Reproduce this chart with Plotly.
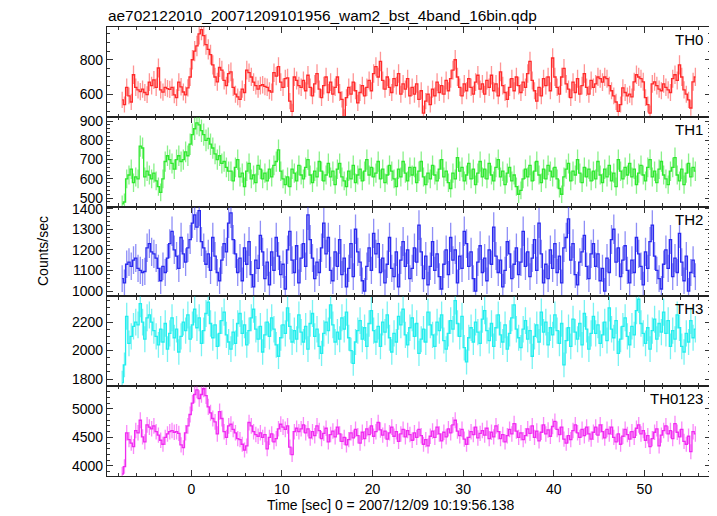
import numpy as np
import plotly.graph_objects as go
from plotly.subplots import make_subplots

# ---- data (0.25 s bins, count rates in counts/sec) ----
T_START = -7.625   # centre of first bin (s)
BIN = 0.25         # bin width (s)

th0 = [
    567, 540, 640, 590, 555, 713, 640, 625, 615, 630, 610, 598, 670, 650, 683, 640,
    752, 625, 612, 640, 632, 628, 640, 596, 580, 670, 643, 613, 596, 637, 700, 800,
    850, 880, 950, 975, 940, 888, 860, 830, 770, 700, 672, 755, 740, 680, 650, 720,
    730, 640, 600, 585, 570, 630, 610, 740, 725, 700, 670, 650, 630, 650, 655, 645,
    640, 620, 612, 725, 705, 760, 670, 640, 690, 695, 560, 500, 700, 680, 650, 640,
    680, 620, 710, 640, 590, 660, 720, 630, 580, 650, 700, 610, 670, 600, 640, 700,
    610, 570, 470, 580, 640, 600, 670, 620, 550, 610, 650, 590, 640, 680, 620, 720,
    760, 700, 790, 680, 630, 700, 640, 610, 690, 650, 720, 600, 660, 630, 690, 590,
    640, 600, 660, 570, 620, 490, 560, 600, 540, 630, 590, 670, 610, 650, 600, 680,
    620, 690, 740, 800, 700, 640, 590, 660, 620, 690, 640, 600, 670, 710, 630, 660,
    600, 680, 640, 710, 620, 660, 590, 730, 650, 610, 570, 640, 690, 620, 700, 650,
    610, 670, 640, 720, 790, 680, 620, 560, 640, 590, 690, 650, 700, 620, 810, 700,
    640, 600, 700, 750, 660, 630, 580, 670, 610, 690, 600, 650, 720, 640, 600, 680,
    640, 660, 700, 690, 670, 700, 690, 650, 620, 590, 555, 500, 540, 637, 610, 590,
    600, 585, 672, 713, 700, 690, 672, 580, 540, 490, 660, 672, 650, 630, 620, 660,
    640, 625, 610, 690, 713, 680, 770, 700, 625, 600, 567, 520, 672, 700,
]

th1 = [
    470, 480, 600, 620, 650, 580, 610, 600, 770, 760, 610, 640, 620, 600, 630, 590,
    560, 530, 600, 690, 720, 700, 680, 650, 700, 720, 690, 700, 740, 720, 780, 830,
    860, 890, 880, 850, 830, 800, 810, 780, 760, 730, 700, 720, 680, 690, 660, 640,
    640, 590, 660, 700, 610, 630, 560, 640, 680, 600, 620, 580, 670, 650, 600, 630,
    590, 650, 610, 670, 690, 750, 640, 600, 570, 610, 560, 650, 630, 590, 670, 620,
    600, 660, 700, 620, 580, 640, 610, 690, 640, 590, 620, 680, 610, 640, 570, 650,
    680, 610, 590, 560, 640, 600, 670, 580, 620, 650, 590, 640, 700, 620, 660, 610,
    630, 690, 600, 650, 580, 620, 670, 640, 600, 560, 650, 610, 690, 630, 590, 660,
    620, 660, 580, 640, 690, 610, 570, 630, 600, 670, 620, 590, 650, 700, 610, 640,
    580, 550, 630, 600, 710, 640, 660, 590, 620, 680, 600, 650, 570, 630, 690, 610,
    650, 600, 680, 620, 590, 660, 700, 610, 640, 570, 630, 660, 590, 620, 560, 520,
    540, 600, 650, 610, 670, 590, 640, 690, 620, 580, 650, 600, 670, 640, 610, 660,
    600, 550, 520, 610, 650, 680, 590, 640, 620, 700, 630, 580, 660, 610, 650, 590,
    640, 600, 690, 620, 580, 650, 610, 670, 590, 630, 560, 700, 640, 600, 660, 620,
    680, 610, 650, 570, 630, 670, 620, 590, 660, 700, 610, 640, 580, 650, 690, 620,
    600, 570, 640, 660, 710, 620, 590, 650, 570, 630, 680, 610, 660, 640,
]

th2 = [
    1060, 1040, 1130, 1140, 1120, 1150, 1160, 1110, 1100, 1090, 1095, 1210, 1230, 1190, 1180, 1160,
    1110, 1050, 1120, 1090, 1160, 1230, 1290, 1200, 1170, 1110, 1260, 1180, 1140, 1210, 1250, 1330,
    1370, 1310, 1390, 1240, 1210, 1130, 1180, 1100, 1260, 1170, 1090, 1050, 1150, 1230, 1190, 1330,
    1380, 1250, 1180, 1090, 1160, 1050, 1210, 1130, 1240, 1080, 1020, 1150, 1110, 1270, 1190, 1060,
    1140, 1030, 1190, 1100, 1260, 1170, 1080, 1130, 1010, 1200, 1290, 1150, 1090, 1220, 1040, 1160,
    1230, 1120, 1370, 1250, 1160, 1060, 1140, 1090, 1210, 1330, 1180, 1260, 1100, 1050, 1190, 1120,
    1250, 1080, 1160, 1020, 1110, 1230, 1070, 1300, 1190, 1140, 1050, 1000, 1120, 1210, 1100, 1280,
    1180, 1230, 1090, 1160, 1040, 1130, 1260, 1110, 1070, 1190, 1020, 1150, 1240, 1120, 1200, 1060,
    1110, 1210, 1140, 1320, 1190, 1060, 1170, 1030, 1120, 1240, 1100, 1180, 1070, 1010, 1130, 1200,
    1080, 1260, 1150, 1200, 1040, 1170, 1110, 1290, 1230, 1120, 1190, 1060, 1000, 1140, 1220, 1090,
    1160, 1050, 1200, 1130, 1310, 1170, 1090, 1150, 1020, 1100, 1240, 1180, 1060, 1130, 1210, 1080,
    1140, 1290, 1120, 1190, 1070, 1160, 1250, 1100, 1330, 1180, 1040, 1130, 1060, 1200, 1110, 1230,
    1090, 1170, 1040, 1210, 1260, 1350, 1150, 1230, 1080, 1030, 1140, 1190, 1270, 1120, 1060, 1180,
    1230, 1120, 1180, 1050, 1110, 1000, 1160, 1090, 1250, 1300, 1140, 1210, 1070, 1150, 1220, 1100,
    1040, 1150, 1090, 1260, 1180, 1120, 1030, 1190, 1110, 1240, 1320, 1170, 1100, 1060, 1010, 1130,
    1200, 1110, 1250, 1070, 1160, 1090, 1280, 1140, 1050, 1170, 1000, 1090, 1150, 1070,
]

th3 = [
    1775, 1900, 2240, 2050, 2100, 2170, 2200, 2180, 2330, 2200, 2080, 2230, 2250, 2200, 2140, 2100,
    2040, 2150, 2060, 2190, 2010, 2120, 2230, 2090, 2150, 1990, 2100, 2200, 2140, 2250, 2080, 2180,
    2290, 2160, 2230, 2050, 2140, 2260, 2340, 2190, 2090, 2180, 2030, 2120, 2210, 2270, 2110, 2060,
    2010, 2130, 2050, 2190, 2260, 2120, 2180, 2040, 2140, 2230, 2290, 2150, 2080, 2170, 1990, 2110,
    2200, 2100, 2230, 2150, 2040, 1960, 2090, 2180, 2120, 2300, 2170, 2060, 2140, 2080, 2250, 2130,
    2060, 2170, 2010, 2190, 2260, 2100, 2150, 2030, 1980, 2120, 2200, 2140, 2320, 2180, 2060, 2130,
    2080, 2230, 2150, 2270, 2090, 2000, 1910, 2060, 2140, 2210, 2080, 2160, 2030, 2190, 2280, 2140,
    2060, 2170, 2030, 2200, 2130, 2250, 2090, 1990, 2120, 2060, 2240, 2180, 2290, 2110, 2040, 2160,
    2230, 2100, 2190, 1980, 2080, 2150, 2060, 2270, 2180, 2110, 2030, 2200, 2140, 2250, 2070, 2010,
    2120, 2210, 2150, 2350, 2190, 2100, 2240, 2020, 1920, 2090, 2160, 2060, 2200, 2130, 2050, 2220,
    2280, 2140, 2070, 2190, 2030, 2160, 2250, 2110, 2060, 2180, 2010, 2120, 2230, 2320, 2150, 2090,
    2020, 2150, 2210, 2080, 2140, 1960, 2100, 2180, 2060, 2270, 2130, 2200, 2040, 2160, 2110, 2250,
    2140, 2050, 2190, 1900, 2070, 2160, 2030, 2220, 2130, 2080, 2190, 2040, 2260, 2150, 2010, 2120,
    2240, 2120, 2180, 2050, 2110, 2200, 2070, 2300, 2150, 2090, 2210, 1980, 2080, 2170, 2230, 2100,
    2040, 2170, 2110, 2280, 2360, 2190, 2120, 2050, 2160, 2010, 2140, 2220, 2080, 2190, 2130, 2270,
    2120, 2210, 2030, 2140, 2080, 2250, 2160, 2030, 1990, 2120, 2060, 2210, 2090, 2150,
]

th0123 = [
    3860, 3990, 4580, 4460, 4400, 4340, 4620, 4580, 4800, 4510, 4420, 4720, 4680, 4650, 4700, 4600,
    4540, 4450, 4380, 4500, 4560, 4600, 4620, 4590, 4600, 4570, 4370, 4320, 4580, 4700, 4900, 5100,
    5250, 5330, 5180, 5250, 5350, 5230, 5035, 4930, 4830, 4770, 4560, 4950, 4830, 4600, 4500, 4700,
    4730, 4640, 4580, 4480, 4460, 4380, 4280, 4350, 4760, 4700, 4600, 4550, 4520, 4580, 4500, 4550,
    4300, 4500, 4560, 4420, 4480, 4650, 4730, 4680, 4640, 4700, 4330, 4200, 4600, 4660, 4600, 4650,
    4720, 4580, 4650, 4490, 4600, 4530, 4700, 4620, 4480, 4570, 4660, 4420, 4550, 4610, 4510, 4680,
    4560, 4430, 4500, 4370, 4460, 4580, 4490, 4640, 4530, 4400, 4590, 4480, 4650, 4550, 4700, 4520,
    4600, 4760, 4630, 4540, 4610, 4470, 4580, 4680, 4520, 4600, 4430, 4560, 4640, 4510, 4620, 4550,
    4450, 4580, 4500, 4640, 4530, 4380, 4460, 4350, 4520, 4610, 4500, 4680, 4560, 4440, 4590, 4510,
    4650, 4580, 4720, 4800, 4610, 4530, 4640, 4470, 4380, 4500, 4600, 4550, 4680, 4490, 4570, 4620,
    4540, 4660, 4480, 4590, 4510, 4700, 4600, 4480, 4550, 4420, 4530, 4640, 4560, 4740, 4610, 4500,
    4580, 4460, 4530, 4650, 4570, 4700, 4500, 4610, 4440, 4590, 4720, 4560, 4630, 4520, 4690, 4780,
    4640, 4550, 4680, 4470, 4400, 4530, 4460, 4620, 4720, 4580, 4500, 4640, 4530, 4680, 4560, 4470,
    4590, 4680, 4540, 4720, 4600, 4490, 4640, 4560, 4680, 4500, 4420, 4560, 4380, 4520, 4640, 4550,
    4470, 4600, 4500, 4660, 4720, 4560, 4620, 4450, 4530, 4340, 4480, 4590, 4650, 4350, 4540, 4620,
    4700, 4560, 4620, 4480, 4740, 4590, 4510, 4640, 4430, 4380, 4520, 4250, 4600, 4560,
]

panel_names = ["TH0", "TH1", "TH2", "TH3", "TH0123"]
series = [th0, th1, th2, th3, th0123]
line_colors = ["#ff2a2a", "#2ee82e", "#2a2aee", "#22eeee", "#f02af0"]
err_colors = ["rgba(255,60,60,0.55)", "rgba(40,230,40,0.55)", "rgba(50,50,240,0.55)",
              "rgba(30,235,235,0.6)", "rgba(245,40,245,0.55)"]
y_ranges = [[469, 990], [456, 922], [974, 1410], [1750, 2380], [3825, 5395]]
y_dticks = [200, 100, 100, 200, 500]
y_minor = [50, 20, 20, 50, 100]
x_range = [-9.3, 57.35]

TITLE = "ae702122010_20071209101956_wam2_bst_4band_16bin.qdp"
XTITLE = "Time [sec] 0 = 2007/12/09 10:19:56.138"
YTITLE = "Counts/sec"

FONT = "Liberation Sans, Arial, Helvetica, sans-serif"

fig = make_subplots(rows=5, cols=1, shared_xaxes=True, vertical_spacing=0)

for i, (name, vals) in enumerate(zip(panel_names, series)):
    v = np.asarray(vals, dtype=float)
    t = T_START + BIN * np.arange(len(v))
    err = np.sqrt(v * BIN) / BIN  # Poisson error of rate
    fig.add_trace(
        go.Scatter(
            x=t, y=v, mode="lines", line=dict(color=line_colors[i], width=1.3, shape="hvh"),
            error_y=dict(type="data", array=err, visible=True, color=err_colors[i],
                         thickness=1.3, width=0),
            showlegend=False, hoverinfo="skip",
        ),
        row=i + 1, col=1,
    )

axis_common = dict(
    showgrid=False, zeroline=False, showline=True, linecolor="#222222", linewidth=1.3,
    mirror="allticks", ticks="inside", tickcolor="#333333", tickwidth=1,
    tickfont=dict(family=FONT, size=14, color="black"),
)

for i in range(5):
    fig.update_yaxes(
        range=y_ranges[i], dtick=y_dticks[i], ticklen=6,
        minor=dict(dtick=y_minor[i], ticklen=3, ticks="inside", tickcolor="#333333"),
        **axis_common, row=i + 1, col=1,
    )
    fig.update_xaxes(
        range=x_range, dtick=10, tick0=0, ticklen=6,
        minor=dict(dtick=2, ticklen=3, ticks="inside", tickcolor="#333333"),
        showticklabels=(i == 4),
        **axis_common, row=i + 1, col=1,
    )

# page has an 8px body margin; compensate so the plot area lands where the reference has it
OFF = 8
W, H = 717 - OFF, 516 - OFF
L, R, T, B = 107 - OFF, 6, 27 - OFF, 40
pw, ph = W - L - R, H - T - B

def px_x(p):
    return (p - OFF - L) / pw

def px_y(p):
    return (H - B - (p - OFF)) / ph

annotations = [
    dict(text=TITLE, x=px_x(106), y=px_y(15.5), xref="paper", yref="paper",
         xanchor="left", yanchor="middle", showarrow=False,
         font=dict(family=FONT, size=15.4, color="black")),
    dict(text=XTITLE, x=px_x(391), y=px_y(505), xref="paper", yref="paper",
         xanchor="center", yanchor="middle", showarrow=False,
         font=dict(family=FONT, size=14, color="black")),
    dict(text=YTITLE, x=px_x(43), y=px_y(251), xref="paper", yref="paper",
         xanchor="center", yanchor="middle", showarrow=False, textangle=-90,
         font=dict(family=FONT, size=14, color="black")),
]
for i, name in enumerate(panel_names):
    top = 27 + i * ph / 5
    annotations.append(dict(text=name, x=px_x(705), y=px_y(top + 2), xref="paper", yref="paper",
                            xanchor="right", yanchor="top", showarrow=False,
                            font=dict(family=FONT, size=15, color="black")))

fig.update_layout(
    width=W, height=H, margin=dict(l=L, r=R, t=T, b=B),
    paper_bgcolor="white", plot_bgcolor="white",
    annotations=annotations, showlegend=False,
)

fig.write_html("out.html")
